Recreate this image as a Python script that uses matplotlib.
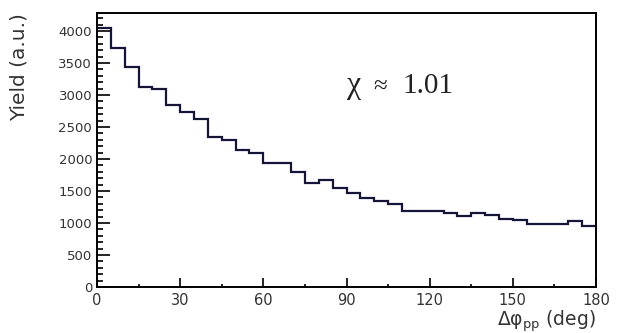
import numpy as np
import matplotlib
matplotlib.use("Agg")
import matplotlib.pyplot as plt
from matplotlib.ticker import MultipleLocator

# Azimuthal correlation histogram, 5 degree bins from 0 to 180
bin_edges = np.arange(0, 181, 5)
yield_values = [4050, 3730, 3440, 3130, 3090, 2840, 2740, 2620, 2340, 2290,
                2140, 2090, 1940, 1940, 1790, 1630, 1670, 1540, 1470, 1390,
                1350, 1300, 1190, 1190, 1190, 1150, 1110, 1150, 1130, 1070,
                1040, 990, 990, 990, 1030, 950]
x_ticks = [0, 30, 60, 90, 120, 150, 180]
y_ticks = [0, 500, 1000, 1500, 2000, 2500, 3000, 3500, 4000]

W, H = 618, 333
fig = plt.figure(figsize=(W / 100, H / 100), dpi=100)
ax = fig.add_axes([97 / W, 1 - 287 / H, (596 - 97) / W, (287 - 13) / H])

ax.stairs(yield_values, bin_edges, color="#15153a", lw=1.6, baseline=None)

ax.set_xlim(0, 180)
ax.set_ylim(0, 4280)
ax.set_xticks(x_ticks)
ax.set_yticks(y_ticks)
ax.xaxis.set_minor_locator(MultipleLocator(15))
ax.yaxis.set_minor_locator(MultipleLocator(100))

ax.tick_params(axis="both", which="both", direction="in", top=False, right=False,
               labelcolor="#333333", color="black", width=1.2)
ax.tick_params(axis="y", which="major", length=9, pad=3.5, labelsize=9.5)
ax.tick_params(axis="y", which="minor", length=4.5)
ax.tick_params(axis="x", which="major", length=6.5, pad=4.5, labelsize=10.5)
ax.tick_params(axis="x", which="minor", length=2.5)

for s in ax.spines.values():
    s.set_linewidth(1.4)

# axis titles placed ROOT-style at the far ends of the axes
fig.text(19 / W, 1 - 13 / H, "Yield (a.u.)", rotation=90, ha="center", va="top",
         fontsize=14.5, color="#333333")
fig.text(596 / W, 1 - 326 / H, r"Δφ$_{\mathrm{pp}}$ (deg)", ha="right",
         va="baseline", fontsize=13.5, color="#333333")

serif = ["Liberation Serif", "DejaVu Serif"]
base_y = (287 - 93) / 274
ax.text((347 - 97) / 499, base_y, "χ", transform=ax.transAxes, fontsize=23,
        family=serif, va="baseline", ha="left", color="#222222")
ax.text((373 - 97) / 499, base_y, "≈", transform=ax.transAxes, fontsize=18,
        family=serif, va="baseline", ha="left", color="#222222")
ax.text((402 - 97) / 499, base_y, "1.01", transform=ax.transAxes, fontsize=21,
        family=serif, va="baseline", ha="left", color="#222222")

fig.savefig("out.png", dpi=100)
